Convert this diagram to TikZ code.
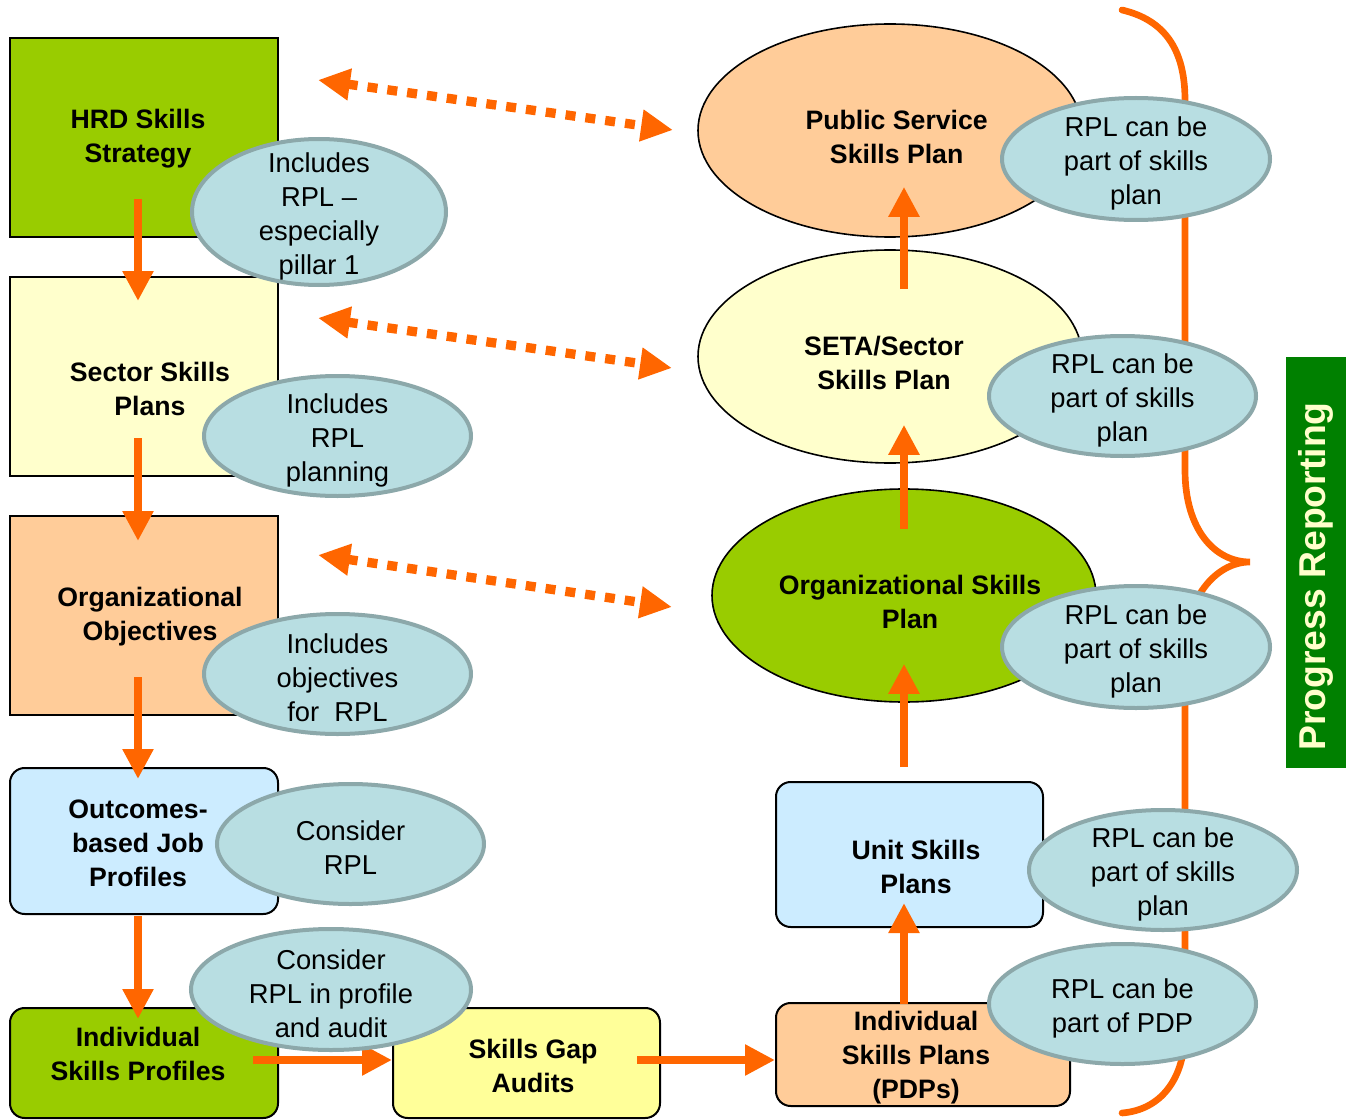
\documentclass[tikz,border=0pt]{standalone}
\usepackage{fontspec}
\setmainfont{Liberation Sans}
\usetikzlibrary{arrows.meta,shapes.geometric,calc}
\definecolor{oran}{HTML}{FF6600}
\definecolor{lgreen}{HTML}{99CC00}
\definecolor{lyel}{HTML}{FFFFCC}
\definecolor{peach}{HTML}{FFCC99}
\definecolor{lblue}{HTML}{CCECFF}
\definecolor{yel}{HTML}{FFFF99}
\definecolor{callfill}{HTML}{B8DEE2}
\definecolor{callbd}{HTML}{8CA8AA}
\definecolor{dgreen}{HTML}{008000}
\begin{document}
\begin{tikzpicture}[x=0.75pt,y=-0.75pt,
  box/.style={draw=black,line width=1.5pt,inner sep=0pt,minimum width=201pt},
  rbox/.style={box,rounded corners=11pt},
  btext/.style={font=\bfseries\fontsize{20}{25.5}\selectfont,align=center,inner sep=0pt},
  bigell/.style={ellipse,draw=black,line width=1.2pt,inner sep=0pt,minimum width=288pt,minimum height=159.75pt},
  callout/.style={ellipse,draw=callbd,fill=callfill,line width=3pt,inner sep=0pt,minimum width=200.25pt,minimum height=90pt},
  ctext/.style={font=\fontsize{20.5}{25.5}\selectfont,align=center,inner sep=0pt,yshift=-3pt},
  flow/.style={draw=oran,line width=6.4pt,-{Triangle[length=22.5pt,width=22pt]}},
  dots/.style={draw=oran,line width=7pt,dash pattern=on 7.5pt off 7.5pt,{Triangle[length=24pt,width=22.5pt]}-{Triangle[length=24pt,width=22.5pt]}},
  brace/.style={draw=oran,line width=5pt,line cap=round}
]
\useasboundingbox (0,0) rectangle (1346,1120);

% left column boxes
\node[box,fill=lgreen,minimum height=149.25pt,label={[btext,xshift=-4.5pt,yshift=-0.5pt]center:{HRD Skills\\Strategy}}] (hrd) at (144,137.5) {};
\node[box,fill=lyel,minimum height=149.25pt,label={[btext,xshift=4.5pt,yshift=-9.5pt]center:{Sector Skills\\Plans}}] (sector) at (144,376.5) {};
\node[box,fill=peach,minimum height=149.25pt,label={[btext,xshift=4.5pt,yshift=-0.5pt]center:{Organizational\\Objectives}}] (orgobj) at (144,615.5) {};
\node[rbox,fill=lblue,minimum height=109.5pt,label={[btext,xshift=-4.5pt,yshift=-2pt]center:{Outcomes-\\based Job\\Profiles}}] (outc) at (144,841) {};
\node[rbox,fill=lgreen,minimum height=82.5pt,label={[btext,xshift=-4.5pt,yshift=7pt]center:{Individual\\Skills Profiles}}] (indprof) at (144,1063) {};
\node[rbox,fill=yel,minimum width=200.25pt,minimum height=82.5pt,label={[btext,xshift=4.9pt,yshift=-2pt]center:{Skills Gap\\Audits}}] (gap) at (526.5,1063) {};
\node[rbox,fill=peach,minimum width=220.5pt,minimum height=77.25pt,label={[btext,xshift=-5.25pt,yshift=-2pt]center:{Individual\\Skills Plans\\(PDPs)}}] (pdp) at (923,1054.5) {};
\node[rbox,fill=lblue,minimum width=200.25pt,minimum height=108.75pt,label={[btext,xshift=4.9pt,yshift=-9.5pt]center:{Unit Skills\\Plans}}] (unit) at (909.5,854.5) {};

% right column ellipses
\node[bigell,fill=peach,label={[btext,xshift=5pt,yshift=-5pt]center:{Public Service\\Skills Plan}}] (pub) at (890,130.5) {};
\node[bigell,fill=lyel,label={[btext,xshift=-4.5pt,yshift=-5pt]center:{SETA/Sector\\Skills Plan}}] (seta) at (890,356.5) {};
\node[bigell,fill=lgreen,label={[btext,xshift=4.5pt,yshift=-5pt]center:{Organizational Skills\\Plan}}] (orgsk) at (904,595.5) {};

% flow arrows
\draw[flow] ($(hrd.south)+(-6,-39)$) -- ($(sector.north)+(-6,25)$);
\draw[flow] ($(sector.south)+(-6,-39)$) -- ($(orgobj.north)+(-6,26)$);
\draw[flow] ($(orgobj.south)+(-6,-39)$) -- ($(outc.north)+(-6,12)$);
\draw[flow] ($(outc.south)+(-6,1)$) -- ($(indprof.north)+(-6,12)$);
\draw[flow] ($(indprof.east)+(-26,-3)$) -- ($(gap.west)+(0,-3)$);
\draw[flow] ($(gap.east)+(-24,-3)$) -- ($(pdp.west)+(0,5.5)$);
\draw[flow] ($(pdp.north)+(-19,2)$) -- ($(unit.south)+(-5.5,-25)$);
\draw[flow] ($(unit.north)+(-5.5,-14)$) -- ($(orgsk.south)+(0,-39)$);
\draw[flow] ($(orgsk.north)+(0,41)$) -- ($(seta.south)+(14,-39)$);
\draw[flow] ($(seta.north)+(14,40)$) -- ($(pub.south)+(14,-51)$);

% dotted double arrows
\coordinate (d1a) at (318,80);  \coordinate (d1b) at (673,130);
\coordinate (d2a) at (318,318); \coordinate (d2b) at (672,368);
\coordinate (d3a) at (318,555); \coordinate (d3b) at (672,607);
\draw[dots] (d1a) -- (d1b);
\draw[dots] (d2a) -- (d2b);
\draw[dots] (d3a) -- (d3b);

% brace
\draw[brace] (1122,10) .. controls (1165,20) and (1185,50) .. (1185,100) -- (1185,470)
  .. controls (1185,530) and (1215,562) .. (1250,562)
  .. controls (1215,562) and (1185,600) .. (1185,650) -- (1185,1030)
  .. controls (1185,1080) and (1160,1110) .. (1122,1113);

% callouts
\node[callout,minimum width=190.5pt,minimum height=109.5pt,label={[ctext]center:{Includes\\RPL --\\especially\\pillar 1}}] (c1) at (319,212) {};
\node[callout,label={[ctext]center:{Includes\\RPL\\planning}}] (c2) at (337.5,436) {};
\node[callout,label={[ctext]center:{Includes\\objectives\\for\ \ RPL}}] (c3) at (337.5,674) {};
\node[callout,label={[ctext]center:{Consider\\RPL}}] (c4) at (350.5,844) {};
\node[callout,minimum width=210pt,minimum height=90.75pt,label={[ctext]center:{Consider\\RPL in profile\\and audit}}] (c5) at (331,989.5) {};
\node[callout,minimum width=201pt,minimum height=91.5pt,label={[ctext]center:{RPL can be\\part of skills\\plan}}] (c6) at (1136,159) {};
\node[callout,label={[ctext]center:{RPL can be\\part of skills\\plan}}] (c7) at (1122.5,396) {};
\node[callout,minimum width=201pt,minimum height=91.5pt,label={[ctext]center:{RPL can be\\part of skills\\plan}}] (c8) at (1136,647) {};
\node[callout,minimum width=201pt,label={[ctext]center:{RPL can be\\part of skills\\plan}}] (c9) at (1163,870) {};
\node[callout,label={[ctext]center:{RPL can be\\part of PDP}}] (c10) at (1122.5,1004) {};

% progress reporting
\node[fill=dgreen,minimum width=45pt,minimum height=308.25pt,inner sep=0pt] (prog) at (1316,562.5) {};
\node[rotate=90,text=lyel,font=\bfseries\fontsize{28}{30}\selectfont,inner sep=0pt] (progtxt) at ($(prog.center)+(0,14)$) {Progress Reporting};
\end{tikzpicture}
\end{document}
